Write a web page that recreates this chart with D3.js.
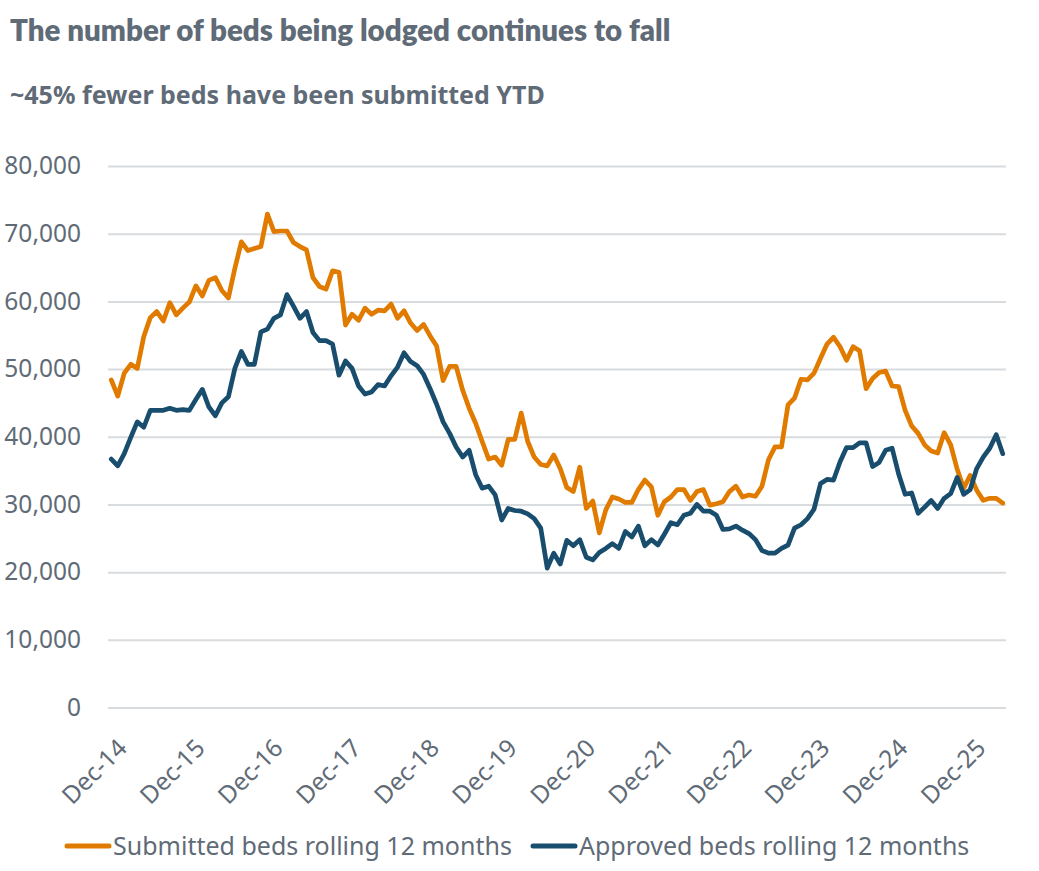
<!DOCTYPE html>
<html>
<head>
<meta charset="utf-8">
<script src="https://cdn.jsdelivr.net/npm/d3@7"></script>
<style>
  body { margin: 0; background: #fff; }
  text { font-family: "Noto Sans", sans-serif; fill: #5f6b77; }
</style>
</head>
<body>
<div id="chart"></div>
<script>
// Submitted vs approved beds, rolling 12 months, Dec-14 onwards (monthly)

const submitted = [
  48400, 46000, 49400, 50700, 50100, 54800, 57600, 58500, 57100, 59800, 58000, 59000,
  59900, 62300, 60800, 63100, 63500, 61600, 60500, 64900, 68800, 67500, 67800, 68100,
  72900, 70300, 70400, 70400, 68700, 68100, 67600, 63500, 62200, 61800, 64500, 64300,
  56500, 58100, 57200, 59000, 58100, 58700, 58600, 59600, 57500, 58600, 56800, 55700,
  56600, 54900, 53400, 48300, 50400, 50400, 46900, 44200, 42000, 39300, 36700, 37000,
  35800, 39600, 39600, 43500, 39300, 37000, 35900, 35700, 37300, 35300, 32500, 31900,
  35500, 29400, 30500, 25800, 29200, 31100, 30800, 30300, 30300, 32200, 33600, 32600,
  28400, 30400, 31100, 32200, 32200, 30600, 31900, 32200, 29900, 30100, 30400, 31900,
  32700, 31100, 31400, 31200, 32700, 36600, 38500, 38500, 44700, 45700, 48500, 48400,
  49400, 51600, 53700, 54700, 53300, 51300, 53300, 52700, 47100, 48600, 49500, 49700,
  47500, 47400, 43900, 41600, 40500, 38800, 37900, 37600, 40600, 38800, 35200, 32400,
  34300, 32100, 30600, 30900, 30900, 30200
];

const approved = [
  36700, 35700, 37500, 39900, 42200, 41400, 43900, 43900, 43900, 44200, 43900, 44000,
  43900, 45500, 47000, 44400, 43100, 45000, 45900, 50100, 52600, 50700, 50700, 55500,
  55900, 57500, 58000, 61000, 59300, 57500, 58500, 55400, 54200, 54200, 53700, 49100,
  51200, 50100, 47500, 46300, 46600, 47700, 47500, 49000, 50300, 52400, 51100, 50500,
  49200, 47100, 44800, 42200, 40500, 38500, 37000, 38000, 34400, 32400, 32700, 31400,
  27700, 29400, 29100, 29000, 28600, 27900, 26500, 20600, 22800, 21200, 24700, 23900,
  24800, 22200, 21800, 22900, 23500, 24200, 23500, 26000, 25200, 26800, 23900, 24800,
  24000, 25600, 27300, 27000, 28400, 28700, 30000, 29000, 29000, 28400, 26300, 26400,
  26800, 26200, 25700, 24800, 23200, 22800, 22800, 23500, 24000, 26500, 27000, 27900,
  29300, 33100, 33700, 33600, 36300, 38400, 38400, 39100, 39100, 35600, 36200, 38000,
  38300, 34500, 31500, 31700, 28700, 29600, 30600, 29400, 30900, 31600, 34000, 31500,
  32200, 35300, 37000, 38300, 40300, 37500
];

// one category per month, starting Dec 2014
const months = d3.timeMonth.range(new Date(2014, 11, 1), new Date(2026, 5, 1));

const xTickLabels = ["Dec-14", "Dec-15", "Dec-16", "Dec-17", "Dec-18", "Dec-19",
  "Dec-20", "Dec-21", "Dec-22", "Dec-23", "Dec-24", "Dec-25"];
const yTicks = [0, 10000, 20000, 30000, 40000, 50000, 60000, 70000, 80000];

const seriesNames = ["Submitted beds rolling 12 months", "Approved beds rolling 12 months"];
const seriesColors = ["#e07b00", "#184d6e"];

const width = 1039;
const height = 871;
const plotLeft = 108, plotRight = 1006;
const plotTop = 166, plotBottom = 707.5;

const svg = d3.select("#chart")
  .append("svg")
  .attr("width", width)
  .attr("height", height);

// Titles
svg.append("text")
  .attr("x", 10)
  .attr("y", 41)
  .style("font-family", "Lato, sans-serif")
  .style("font-weight", 800)
  .style("font-size", "29.5px")
  .text("The number of beds being lodged continues to fall");

svg.append("text")
  .attr("x", 10)
  .attr("y", 104)
  .style("font-weight", 700)
  .style("font-size", "25px")
  .text("~45% fewer beds have been submitted YTD");

// Scales: each month sits in the middle of its own band
const x = d3.scaleBand()
  .domain(d3.range(months.length))
  .range([plotLeft, plotRight]);
const xc = i => x(i) + x.bandwidth() / 2;

const y = d3.scaleLinear()
  .domain([0, 80000])
  .range([plotBottom, plotTop]);

// Y axis with gridlines
const yAxis = svg.append("g")
  .attr("transform", `translate(${plotLeft},0)`)
  .call(d3.axisLeft(y)
    .tickValues(yTicks)
    .tickSize(-(plotRight - plotLeft))
    .tickPadding(27)
    .tickFormat(d3.format(",")));

yAxis.select(".domain").remove();
yAxis.selectAll(".tick line")
  .attr("stroke", "#d9dcdf")
  .attr("stroke-width", 2);
yAxis.selectAll(".tick text")
  .style("font-size", "24.5px")
  .style("fill", "#5f6b77");

// X axis: one label every December
const tickIdx = xTickLabels.map((d, i) => i * 12);
const xAxis = svg.append("g")
  .attr("transform", `translate(0,${plotBottom})`)
  .call(d3.axisBottom(x)
    .tickValues(tickIdx)
    .tickSize(0)
    .tickFormat((d, i) => xTickLabels[i]));

xAxis.select(".domain").remove();
xAxis.selectAll(".tick text")
  .attr("text-anchor", "end")
  .attr("dy", "0.35em")
  .attr("y", 0)
  .attr("transform", "translate(11,36) rotate(-45)")
  .style("font-size", "24.5px")
  .style("fill", "#5f6b77");

// Lines
const line = d3.line()
  .x((d, i) => xc(i))
  .y(d => y(d));

[submitted, approved].forEach((values, k) => {
  svg.append("path")
    .datum(values)
    .attr("fill", "none")
    .attr("stroke", seriesColors[k])
    .attr("stroke-width", 4.7)
    .attr("stroke-linejoin", "round")
    .attr("stroke-linecap", "round")
    .attr("d", line);
});

// Legend
const legendX = [67, 533];
const legend = svg.selectAll(".legend")
  .data(seriesNames)
  .enter()
  .append("g")
  .attr("class", "legend")
  .attr("transform", (d, i) => `translate(${legendX[i]},846)`);

legend.append("line")
  .attr("x1", 0)
  .attr("x2", 42)
  .attr("stroke", (d, i) => seriesColors[i])
  .attr("stroke-width", 5)
  .attr("stroke-linecap", "round");

legend.append("text")
  .attr("x", 46)
  .attr("dy", "0.35em")
  .style("font-size", "25px")
  .text(d => d);
</script>
</body>
</html>
